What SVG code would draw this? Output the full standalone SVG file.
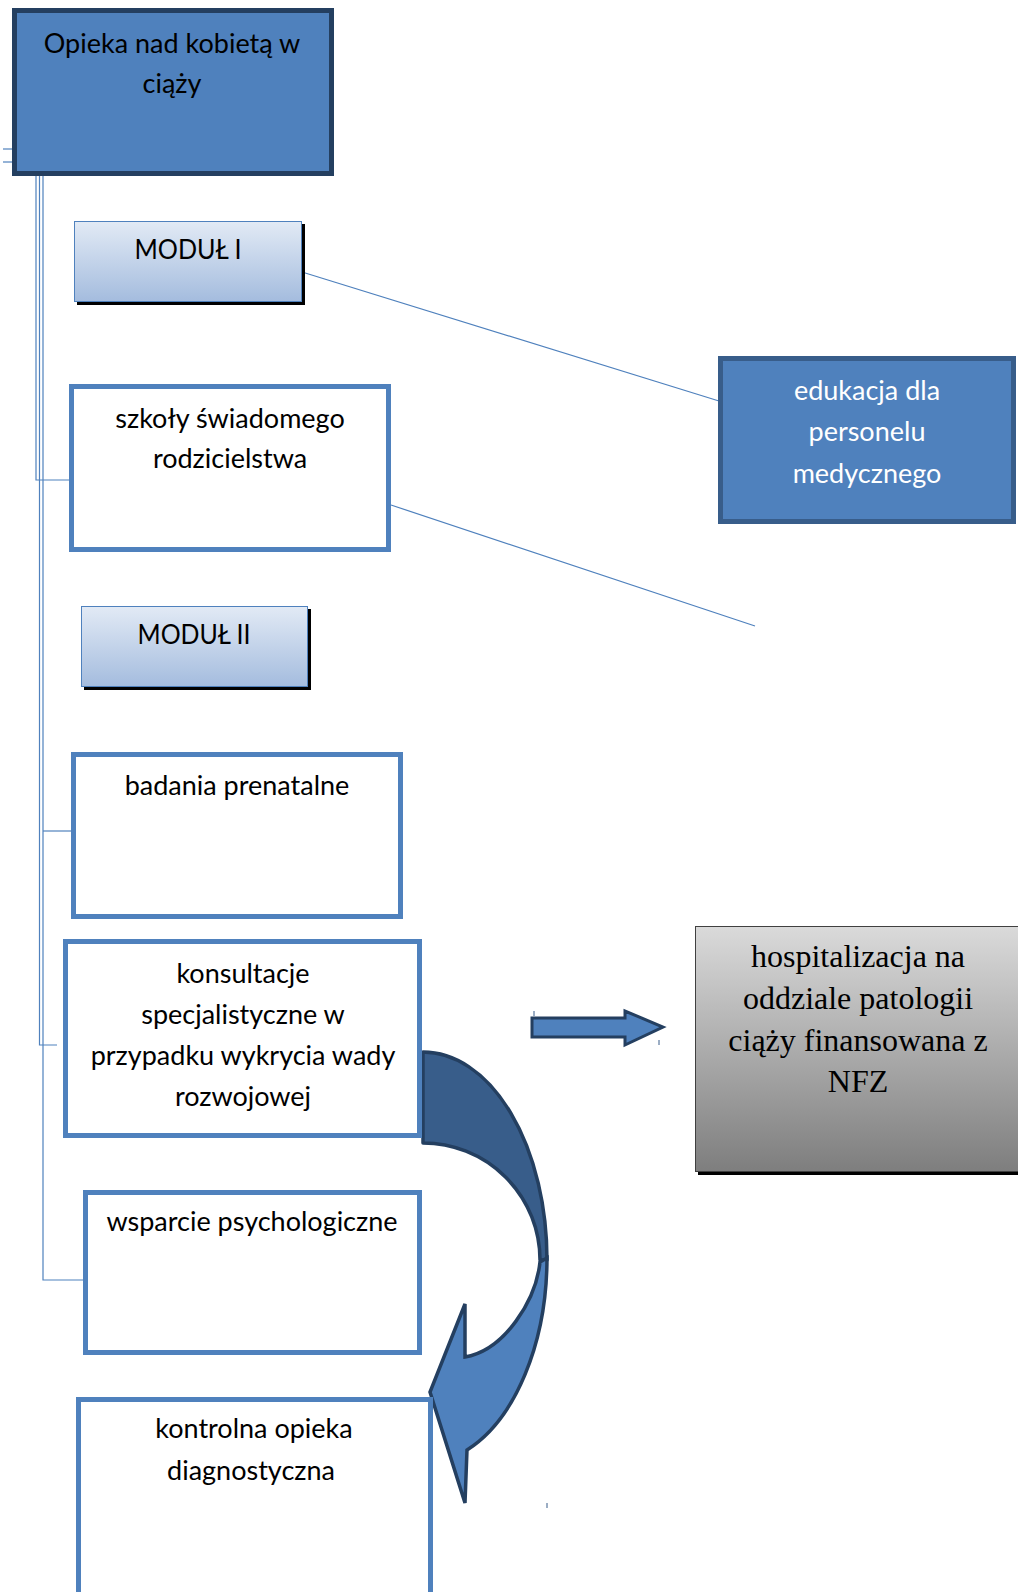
<svg xmlns="http://www.w3.org/2000/svg" width="1018" height="1592" viewBox="0 0 1018 1592">
<style>
.t{font-family:Lato,"Liberation Sans",sans-serif;font-size:27px;fill:#000;text-anchor:middle}
.tw{fill:#fff}
.ts{font-family:"Liberation Serif",serif;font-size:32px;fill:#000;text-anchor:middle}
.wb{fill:#fff;stroke:#4f81bd;stroke-width:5}
.db{fill:#4f81bd;stroke-width:5}
.mod{fill:url(#gm);stroke:#4f81bd;stroke-width:1}
.ln{fill:none;stroke:#4f81bd;stroke-width:1.2}
.tk{stroke:#385d8a;stroke-width:1}
</style>
<defs>
<linearGradient id="gm" x1="0" y1="0" x2="0" y2="1">
<stop offset="0" stop-color="#e2eaf5"/>
<stop offset="1" stop-color="#a4bcde"/>
</linearGradient>
<linearGradient id="gg" x1="0" y1="0" x2="0" y2="1">
<stop offset="0" stop-color="#dadada"/>
<stop offset="1" stop-color="#7e7e7e"/>
</linearGradient>
</defs>
<rect width="1018" height="1592" fill="#fff"/>

<g id="connectors">
<line class="ln" x1="3" y1="149" x2="12" y2="149"/>
<line class="ln" x1="3" y1="162" x2="12" y2="162"/>
<polyline class="ln" points="36,176 36,480 70,480"/>
<polyline class="ln" points="39.5,176 39.5,1045 57,1045"/>
<polyline class="ln" points="43,176 43,1280 84,1280"/>
<line class="ln" x1="43" y1="831" x2="72" y2="831"/>
<line class="ln" x1="302" y1="272" x2="719" y2="401"/>
<line class="ln" x1="391" y1="505" x2="755" y2="626"/>
</g>

<g id="arrow-right">
<path d="M532,1018 H625 V1011 L663,1027 L625,1045 V1037 H532 Z" fill="#4f81bd" stroke="#243f60" stroke-width="3" stroke-linejoin="miter"/>
<line class="tk" x1="534" y1="1011" x2="534" y2="1016"/>
<line class="tk" x1="659" y1="1040" x2="659" y2="1045"/>
</g>

<g id="curved-arrow">
<path d="M423,1052 A124,208 0 0 1 547,1260 L540,1260 A117,117 0 0 0 423,1143 Z" fill="#385d8a" stroke="#243f60" stroke-width="3.5" stroke-linejoin="round"/>
<path d="M547,1258 A124,206 0 0 1 467,1450 L465,1503 L430,1392 L465,1304 L465,1357 C505,1350 536,1300 540,1262 Z" fill="#4f81bd" stroke="#243f60" stroke-width="3.5" stroke-linejoin="miter"/>
<line class="tk" x1="547" y1="1503" x2="547" y2="1508"/>
</g>

<g id="node-main">
<rect class="db" x="14.5" y="10.5" width="317" height="163" stroke="#243f60"/>
<text class="t" x="172" y="53">Opieka nad kobietą w</text>
<text class="t" x="172" y="93">ciąży</text>
</g>

<g id="node-modul1">
<rect x="77" y="224" width="228" height="81" fill="#000"/>
<rect class="mod" x="74.5" y="221.5" width="227" height="80"/>
<text class="t" x="188" y="259" textLength="107" lengthAdjust="spacingAndGlyphs">MODUŁ I</text>
</g>

<g id="node-szkoly">
<rect class="wb" x="71.5" y="386.5" width="317" height="163"/>
<text class="t" x="230" y="428">szkoły świadomego</text>
<text class="t" x="230" y="468">rodzicielstwa</text>
</g>

<g id="node-modul2">
<rect x="84" y="609" width="227" height="81" fill="#000"/>
<rect class="mod" x="81.5" y="606.5" width="226" height="80"/>
<text class="t" x="194" y="644" textLength="113" lengthAdjust="spacingAndGlyphs">MODUŁ II</text>
</g>

<g id="node-badania">
<rect class="wb" x="73.5" y="754.5" width="327" height="162"/>
<text class="t" x="237" y="795">badania prenatalne</text>
</g>

<g id="node-konsultacje">
<rect class="wb" x="65.5" y="941.5" width="354" height="194"/>
<text class="t" x="243" y="983">konsultacje</text>
<text class="t" x="243" y="1024">specjalistyczne w</text>
<text class="t" x="243" y="1065">przypadku wykrycia wady</text>
<text class="t" x="243" y="1106">rozwojowej</text>
</g>

<g id="node-wsparcie">
<rect class="wb" x="85.5" y="1192.5" width="334" height="160"/>
<text class="t" x="252" y="1231">wsparcie psychologiczne</text>
</g>

<g id="node-kontrolna">
<rect class="wb" x="78.5" y="1399.5" width="352" height="200"/>
<text class="t" x="254" y="1438">kontrolna opieka</text>
<text class="t" x="251" y="1480">diagnostyczna</text>
</g>

<g id="node-edukacja">
<rect class="db" x="720.5" y="358.5" width="293" height="163" stroke="#385d8a"/>
<text class="t tw" x="867" y="400">edukacja dla</text>
<text class="t tw" x="867" y="441">personelu</text>
<text class="t tw" x="867" y="483">medycznego</text>
</g>

<g id="node-hospitalizacja">
<rect x="698" y="929" width="330" height="246" fill="#000"/>
<rect x="695.5" y="926.5" width="330" height="245" fill="url(#gg)" stroke="#404040" stroke-width="1"/>
<text class="ts" x="858" y="967">hospitalizacja na</text>
<text class="ts" x="858" y="1009">oddziale patologii</text>
<text class="ts" x="858" y="1051">ciąży finansowana z</text>
<text class="ts" x="858" y="1092">NFZ</text>
</g>
</svg>
